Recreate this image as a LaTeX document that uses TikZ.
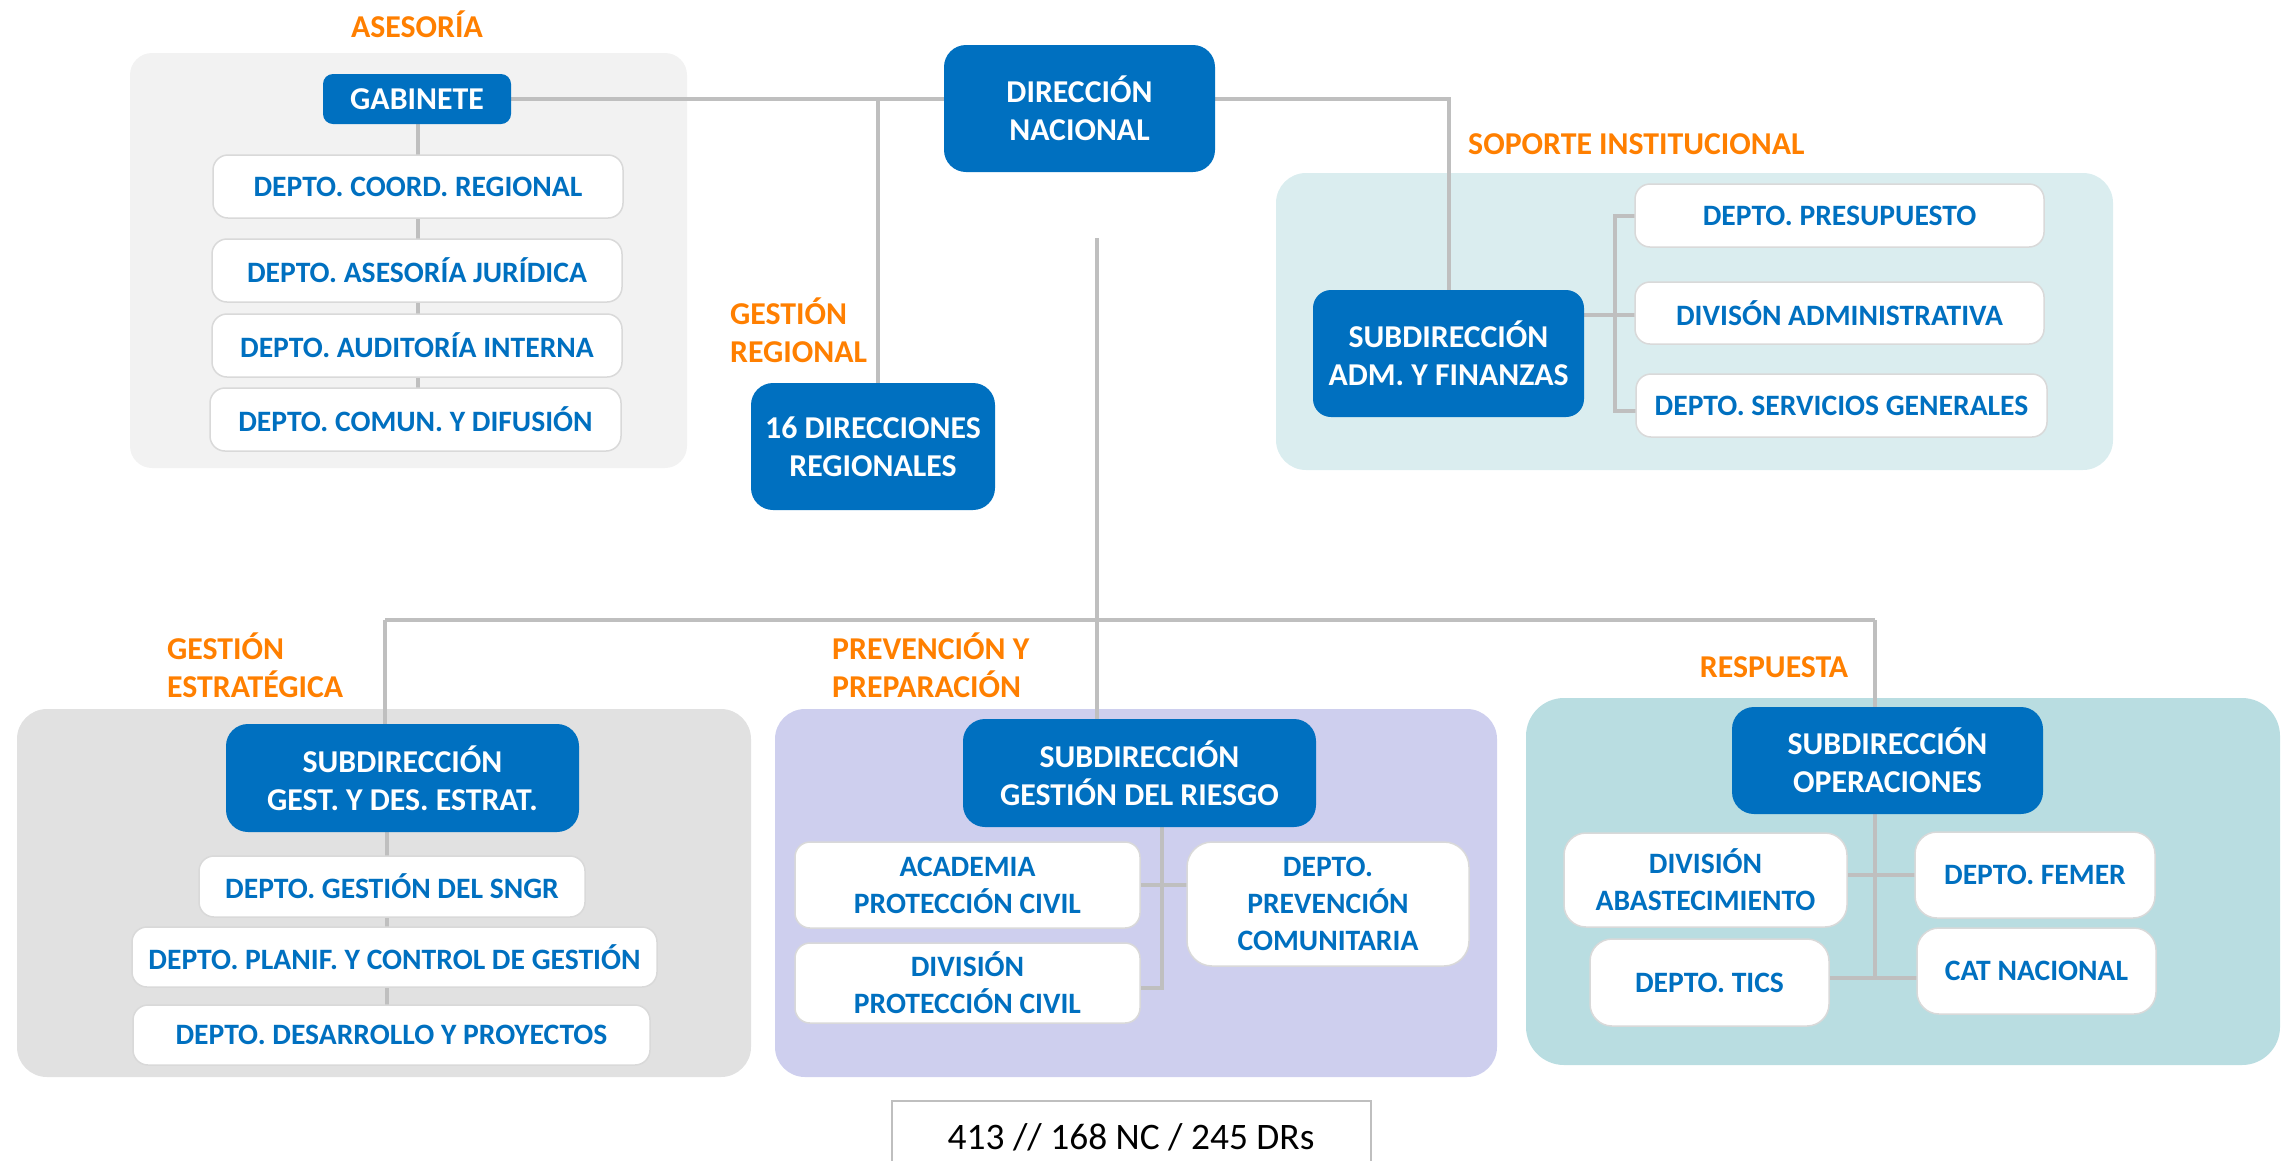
\documentclass[tikz,border=0pt]{standalone}
\usepackage{fontspec}
\setmainfont{Carlito}
\definecolor{cblue}{HTML}{0070C0}
\definecolor{corange}{HTML}{FF7F00}
\definecolor{cline}{HTML}{BFBFBF}
\definecolor{pase}{HTML}{F2F2F2}
\definecolor{psop}{HTML}{DAEDEF}
\definecolor{pge}{HTML}{E1E1E1}
\definecolor{ppp}{HTML}{CECFEE}
\definecolor{presp}{HTML}{B9DDE1}
\begin{document}
\begin{tikzpicture}[x=1pt,y=-1pt,
  txt/.style={font=\bfseries\fontsize{29.6}{37}\selectfont},
  bigtxt/.style={font=\bfseries\fontsize{31.8}{38}\selectfont},
  bluebox/.style={bigtxt, rectangle, rounded corners=22pt, fill=cblue, text=white, align=center, inner sep=0pt},
  whitebox/.style={txt, rectangle, rounded corners=15pt, fill=white, draw=black!15, line width=1.5pt, text=cblue, align=center, inner sep=0pt},
  grp/.style={bigtxt, text=corange, align=left, inner sep=0pt},
  panel/.style={rounded corners=30pt},
  conn/.style={draw=cline, line width=3.5pt}]
\useasboundingbox (0,0) rectangle (2290,1160);

% panels
\fill[pase, rounded corners=22pt] (130,53) rectangle (687,468);
\fill[psop, panel] (1276,173) rectangle (2113,470);
\fill[pge, panel] (17,709) rectangle (751,1077);
\fill[ppp, panel] (775,709) rectangle (1497,1077);
\fill[presp, rounded corners=38pt] (1526,698) rectangle (2280,1065);

% group labels
\node[grp] (lase) at (417,24) {ASESORÍA};
\node[grp, anchor=west] (lgr) at (730,330) {GESTIÓN\\REGIONAL};
\node[grp, anchor=west] (lsop) at (1468,144) {SOPORTE INSTITUCIONAL};
\node[grp, anchor=west] (lge) at (167,665) {GESTIÓN\\ESTRATÉGICA};
\node[grp, anchor=west] (lpp) at (832,665) {PREVENCIÓN Y\\PREPARACIÓN};
\node[grp] (lresp) at (1774,667) {RESPUESTA};

% coordinates for connectors
\coordinate (j1) at (878,99);
\coordinate (j2) at (1449,99);
\coordinate (m1) at (1097,238);
\coordinate (b1) at (385,620);
\coordinate (b2) at (1097,620);
\coordinate (b3) at (1875,620);

% connectors (drawn first, behind boxes)
\draw[conn] (417,99) -- (1079,99);
\draw[conn] (j1) -- (878,446);
\draw[conn] (1079,99) -- (j2) -- (1449,353);
\draw[conn] (418,99) -- (418,420);
\draw[conn] (m1) -- (b2) -- (1097,760);
\draw[conn] (b1) -- (b3);
\draw[conn] (b1) -- (385,778);
\draw[conn] (b3) -- (1875,760);
\draw[conn] (387,778) -- (387,1035);
\draw[conn] (1449,315) -- (1615,315);
\draw[conn] (1639,216) -- (1615,216) -- (1615,411) -- (1639,411);
\draw[conn] (1615,315) -- (1639,315);
\draw[conn] (1162,773) -- (1162,988) -- (1140,988);
\draw[conn] (1140,885) -- (1188,885);
\draw[conn] (1875,760) -- (1875,978);
\draw[conn] (1846,875) -- (1916,875);
\draw[conn] (1828,978) -- (1918,978);

% Asesoría
\node[bluebox, rounded corners=10pt, minimum width=188pt, minimum height=50pt] (gab) at (417,99) {GABINETE};
\node[whitebox, minimum width=410pt, minimum height=63pt] (coord) at (418,186.5) {DEPTO. COORD. REGIONAL};
\node[whitebox, minimum width=410pt, minimum height=63pt] (jur) at (417,270.5) {DEPTO. ASESORÍA JURÍDICA};
\node[whitebox, minimum width=410pt, minimum height=63pt] (aud) at (417,345.5) {DEPTO. AUDITORÍA INTERNA};
\node[whitebox, minimum width=411pt, minimum height=63pt] (com) at (415.5,419.5) {DEPTO. COMUN. Y DIFUSIÓN};

% Dirección nacional / regional
\node[bluebox, minimum width=271pt, minimum height=127pt] (dn) at (1079.5,108.5) {DIRECCIÓN\\NACIONAL};
\node[bluebox, minimum width=244pt, minimum height=127pt] (dr) at (873,446.5) {16 DIRECCIONES\\REGIONALES};

% Soporte institucional
\node[bluebox, rounded corners=18pt, minimum width=271pt, minimum height=127pt] (sadm) at (1448.5,353.5) {SUBDIRECCIÓN\\ADM. Y FINANZAS};
\node[whitebox, minimum width=409pt, minimum height=63pt] (pres) at (1839.5,215.5) {DEPTO. PRESUPUESTO};
\node[whitebox, minimum width=409pt, minimum height=62pt] (divadm) at (1839.5,313) {DIVISÓN ADMINISTRATIVA};
\node[whitebox, minimum width=411pt, minimum height=63pt] (serv) at (1841.5,405.5) {DEPTO. SERVICIOS GENERALES};

% Gestión estratégica
\node[bluebox, minimum width=353pt, minimum height=108pt] (sge) at (402.5,778) {SUBDIRECCIÓN\\GEST. Y DES. ESTRAT.};
\node[whitebox, minimum width=386pt, minimum height=61pt] (sngr) at (392,886.5) {DEPTO. GESTIÓN DEL SNGR};
\node[whitebox, minimum width=525pt, minimum height=60pt] (plan) at (394.5,957) {DEPTO. PLANIF. Y CONTROL DE GESTIÓN};
\node[whitebox, minimum width=517pt, minimum height=60pt] (desa) at (391.5,1035) {DEPTO. DESARROLLO Y PROYECTOS};

% Prevención y preparación
\node[bluebox, minimum width=353pt, minimum height=108pt] (sgr) at (1139.5,773) {SUBDIRECCIÓN\\GESTIÓN DEL RIESGO};
\node[whitebox, minimum width=345pt, minimum height=86pt] (acad) at (967.5,885) {ACADEMIA\\PROTECCIÓN CIVIL};
\node[whitebox, minimum width=345pt, minimum height=80pt] (divpc) at (967.5,983) {DIVISIÓN\\PROTECCIÓN CIVIL};
\node[whitebox, rounded corners=25pt, minimum width=282pt, minimum height=124pt] (prevc) at (1328,904) {DEPTO.\\PREVENCIÓN\\COMUNITARIA};

% Respuesta
\node[bluebox, minimum width=311pt, minimum height=107pt] (sop) at (1887.5,760.5) {SUBDIRECCIÓN\\OPERACIONES};
\node[whitebox, rounded corners=22pt, minimum width=283pt, minimum height=94pt] (abas) at (1705.5,880) {DIVISIÓN\\ABASTECIMIENTO};
\node[whitebox, rounded corners=22pt, minimum width=239pt, minimum height=87pt] (tics) at (1709.5,982.5) {DEPTO. TICS};
\node[whitebox, rounded corners=22pt, minimum width=240pt, minimum height=86pt] (femer) at (2035,875) {DEPTO. FEMER};
\node[whitebox, rounded corners=22pt, minimum width=239pt, minimum height=86pt] (cat) at (2036.5,971) {CAT NACIONAL};

% bottom total
\node[font=\fontsize{37.4}{44}\selectfont, text=black, inner sep=0pt] (tot) at (1131,1137) {413 // 168 NC / 245 DRs};
\draw[draw=black!25, line width=2pt] (892,1170) -- (892,1101) -- (1371,1101) -- (1371,1170);
\end{tikzpicture}
\end{document}
